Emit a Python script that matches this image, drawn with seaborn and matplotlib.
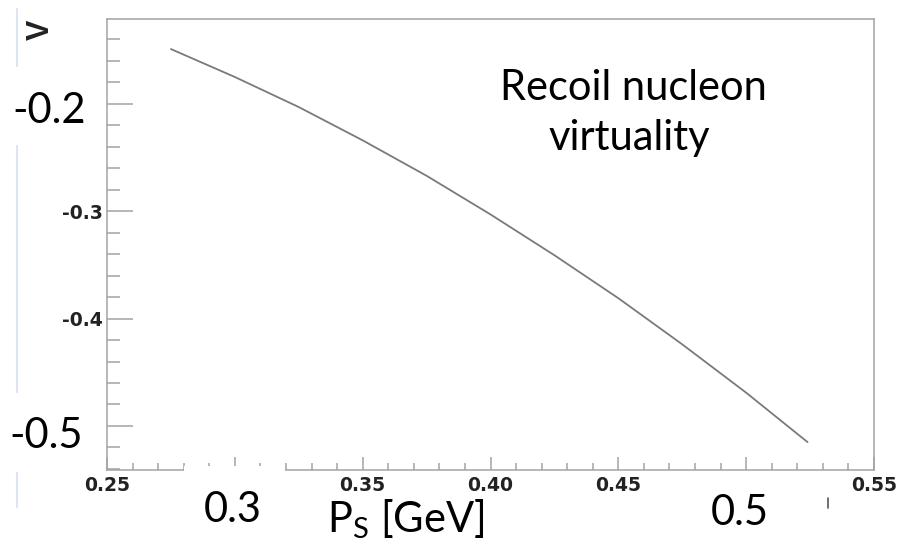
import matplotlib
matplotlib.use("Agg")
import matplotlib.pyplot as plt
from matplotlib.patches import Rectangle
from matplotlib.lines import Line2D
from matplotlib.ticker import MultipleLocator, FixedLocator, FixedFormatter
import seaborn as sns
import pandas as pd

# Recoil nucleon virtuality V versus spectator momentum P_S
ps_gev = [0.275, 0.300, 0.325, 0.350, 0.375, 0.400, 0.425, 0.450, 0.475, 0.500, 0.524]
virtuality = [-0.149, -0.175, -0.203, -0.234, -0.267, -0.303, -0.341, -0.381,
              -0.424, -0.469, -0.515]

x_ticks = [0.25, 0.30, 0.35, 0.40, 0.45, 0.50, 0.55]
x_tick_labels = ["0.25", "", "0.35", "0.40", "0.45", "", "0.55"]
y_ticks = [-0.5, -0.4, -0.3, -0.2]
y_tick_labels = ["", "-0.4", "-0.3", ""]

# large annotation labels laid over the axes
big_labels = [
    ("-0.2", 49, 123),
    ("-0.5", 46, 448),
    ("0.3", 233, 522),
    ("0.5", 740, 525),
]
title_lines = ["Recoil nucleon", "virtuality"]
x_title = r"P$_\mathregular{S}$ [GeV]"
y_title = "V"

W, H = 900, 543
sns.set_style("ticks")
plt.rcParams["font.family"] = ["DejaVu Sans"]

fig = plt.figure(figsize=(W / 100, H / 100), dpi=100)
fig.patch.set_facecolor("white")


def fx(x):
    return x / W


def fy(y):
    return 1 - y / H


ax = fig.add_axes([fx(107), fy(470), fx(874) - fx(107), fy(19) - fy(470)])

df = pd.DataFrame({"P_S": ps_gev, "V": virtuality})
sns.lineplot(data=df, x="P_S", y="V", ax=ax, color="#7a7a7a", linewidth=1.3)

ax.set_xlim(0.25, 0.55)
ax.set_ylim(-0.541, -0.121)
ax.set_xlabel("")
ax.set_ylabel("")

frame_col = "#a3a3a3"
for side in ["left", "right", "top", "bottom"]:
    ax.spines[side].set_visible(True)
    ax.spines[side].set_color(frame_col)
    ax.spines[side].set_linewidth(1.1)

ax.xaxis.set_major_locator(FixedLocator(x_ticks))
ax.xaxis.set_major_formatter(FixedFormatter(x_tick_labels))
ax.xaxis.set_minor_locator(MultipleLocator(0.01))
ax.yaxis.set_major_locator(FixedLocator(y_ticks))
ax.yaxis.set_major_formatter(FixedFormatter(y_tick_labels))
ax.yaxis.set_minor_locator(MultipleLocator(0.02))

ax.tick_params(axis="x", which="major", direction="in", length=9.5, width=1.1,
               color=frame_col, pad=4.5, labelsize=13.5, top=False)
ax.tick_params(axis="x", which="minor", direction="in", length=5, width=1.1,
               color=frame_col, top=False)
ax.tick_params(axis="y", which="major", direction="in", length=19, width=1.1,
               color=frame_col, pad=3, labelsize=13.5, right=False)
ax.tick_params(axis="y", which="minor", direction="in", length=9.5, width=1.1,
               color=frame_col, right=False)
for lab in ax.get_xticklabels() + ax.get_yticklabels():
    lab.set_fontweight("bold")
    lab.set_color("#222222")

# faint vertical rule along the left margin
rule_col = "#dde5f4"
for y0, y1 in [(9, 67), (145, 393), (472, 507)]:
    fig.add_artist(Line2D([fx(17), fx(17)], [fy(y0), fy(y1)],
                          transform=fig.transFigure, color=rule_col, lw=1.5, zorder=3))

# white boxes behind the large labels
for (x0, y0, x1, y1) in [(10, 67, 100, 145), (10, 393, 100, 472),
                         (184, 466, 285, 540), (700, 478, 790, 540)]:
    fig.add_artist(Rectangle((fx(x0), fy(y1)), fx(x1) - fx(x0), fy(y0) - fy(y1),
                             transform=fig.transFigure, facecolor="white",
                             edgecolor="none", zorder=4))

big_font = "Lato"
big_size = 30
for text, x, y in big_labels:
    fig.text(fx(x), fy(y), text, ha="center", va="baseline", fontsize=big_size,
             family=big_font, color="black", zorder=6)

fig.text(fx(633), fy(100), title_lines[0], ha="center", va="baseline",
         fontsize=big_size, family=big_font, color="black", zorder=6)
fig.text(fx(629), fy(150), title_lines[1], ha="center", va="baseline",
         fontsize=big_size, family=big_font, color="black", zorder=6)

fig.text(fx(327), fy(532), x_title, ha="left", va="baseline", fontsize=big_size,
         family=big_font, color="black", zorder=6)

fig.text(fx(41), fy(30), y_title, ha="center", va="center", rotation=90,
         fontsize=22, family="Liberation Sans", fontweight="bold",
         color="#222222", zorder=6)

# small stray mark below the axis
fig.add_artist(Line2D([fx(828), fx(828)], [fy(498), fy(508)],
                      transform=fig.transFigure, color="#555555", lw=1.2, zorder=6))

fig.savefig("out.png", dpi=100, facecolor="white")
